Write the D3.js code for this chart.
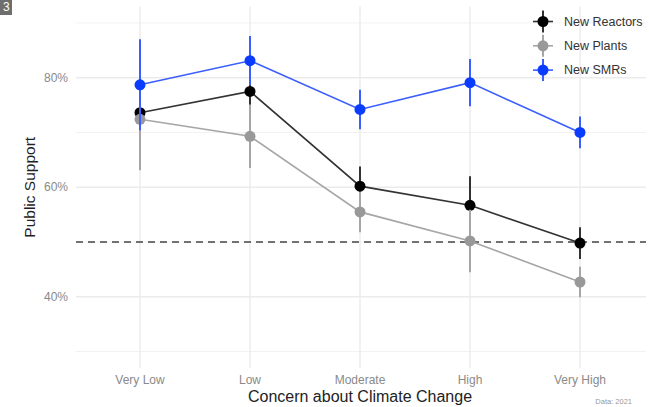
<!DOCTYPE html>
<html><head><meta charset="utf-8">
<script src="https://cdn.jsdelivr.net/npm/d3@7"></script>
<style>body{margin:0;background:#fff}svg{display:block;font-family:"Liberation Sans",Arial,sans-serif}</style>
</head><body><svg id="c" width="649" height="407"></svg>
<script>
const categories = ["Very Low","Low","Moderate","High","Very High"];
const seriesNames = ["New Reactors","New Plants","New SMRs"];
const reactors = [73.6, 77.5, 60.2, 56.7, 49.8];
const reactorsErr = [9.0, 3.5, 3.6, 5.3, 2.9];
const plants = [72.4, 69.3, 55.5, 50.2, 42.7];
const plantsErr = [9.3, 5.8, 3.7, 5.7, 2.8];
const smrs = [78.7, 83.1, 74.2, 79.1, 70.0];
const smrsErr = [8.3, 4.5, 3.6, 4.3, 2.9];
const yTicks = [40, 60, 80];
const yMinor = [30, 50, 70, 90];
const refLine = 50;

const colors = {"New Reactors":"#000000","New Plants":"#999999","New SMRs":"#0a3cff"};
const lineColors = {"New Reactors":"#333333","New Plants":"#a6a6a6","New SMRs":"#3a5eff"};
const series = [
  {name:"New Reactors", v:reactors, e:reactorsErr},
  {name:"New Plants", v:plants, e:plantsErr},
  {name:"New SMRs", v:smrs, e:smrsErr}
];

const svg = d3.select("#c");
const x = d3.scalePoint().domain(categories).range([140,580]);
const y = d3.scaleLinear().domain([27,93]).range([368,6.5]);
const xl = 76, xr = 646;

// top-left tag
svg.append("rect").attr("x",0).attr("y",0).attr("width",12).attr("height",15).attr("fill","#6e6e6e");
svg.append("text").attr("x",3).attr("y",11).attr("fill","#fff").attr("font-size",12).text("3");

// grid
const g = svg.append("g");
g.selectAll(".minor").data(yMinor).join("line")
  .attr("x1",xl).attr("x2",xr).attr("y1",d=>y(d)).attr("y2",d=>y(d))
  .attr("stroke","#f2f2f2").attr("stroke-width",1);
g.selectAll(".major").data(yTicks).join("line")
  .attr("x1",xl).attr("x2",xr).attr("y1",d=>y(d)).attr("y2",d=>y(d))
  .attr("stroke","#ebebeb").attr("stroke-width",1.4);
g.selectAll(".vx").data(categories).join("line")
  .attr("x1",d=>x(d)).attr("x2",d=>x(d)).attr("y1",y(93)).attr("y2",y(27))
  .attr("stroke","#ebebeb").attr("stroke-width",1.4);

// y tick labels
svg.selectAll(".yt").data(yTicks).join("text")
  .attr("x",68).attr("y",d=>y(d)).attr("dy","0.35em").attr("text-anchor","end")
  .attr("fill","#8a8a8a").attr("font-size",12).text(d=>d+"%");
// x tick labels
svg.selectAll(".xt").data(categories).join("text")
  .attr("x",d=>x(d)).attr("y",384).attr("text-anchor","middle")
  .attr("fill","#8a8a8a").attr("font-size",12).text(d=>d);
// titles
svg.append("text").attr("x",360).attr("y",402).attr("text-anchor","middle")
  .attr("fill","#222").attr("font-size",16).text("Concern about Climate Change");
svg.append("text").attr("transform",`translate(35,${(y(93)+y(27))/2}) rotate(-90)`)
  .attr("text-anchor","middle").attr("fill","#222").attr("font-size",15.5).text("Public Support");
svg.append("text").attr("x",632).attr("y",404).attr("text-anchor","end")
  .attr("fill","#999").attr("font-size",7.5).text("Data: 2021");

// reference line
svg.append("line").attr("x1",xl).attr("x2",xr).attr("y1",y(refLine)).attr("y2",y(refLine))
  .attr("stroke","#444").attr("stroke-width",1.5).attr("stroke-dasharray","7,5");

// series
const line = d3.line().x((d,i)=>x(categories[i])).y(d=>y(d));
series.forEach(s=>{
  const sg = svg.append("g");
  sg.selectAll("line.err").data(s.v).join("line")
    .attr("x1",(d,i)=>x(categories[i])).attr("x2",(d,i)=>x(categories[i]))
    .attr("y1",(d,i)=>y(d+s.e[i])).attr("y2",(d,i)=>y(d-s.e[i]))
    .attr("stroke",lineColors[s.name]).attr("stroke-width",2);
  sg.append("path").datum(s.v).attr("d",line).attr("fill","none")
    .attr("stroke",lineColors[s.name]).attr("stroke-width",1.6);
  sg.selectAll("circle").data(s.v).join("circle")
    .attr("cx",(d,i)=>x(categories[i])).attr("cy",d=>y(d)).attr("r",5.5)
    .attr("fill",colors[s.name]);
});

// legend
const lg = svg.append("g");
seriesNames.forEach((n,i)=>{
  const cy = 21.5 + i*24.3, cx = 543;
  lg.append("line").attr("x1",cx-10).attr("x2",cx+10).attr("y1",cy).attr("y2",cy)
    .attr("stroke",lineColors[n]).attr("stroke-width",1.6);
  lg.append("line").attr("x1",cx).attr("x2",cx).attr("y1",cy-11).attr("y2",cy+11)
    .attr("stroke",lineColors[n]).attr("stroke-width",2);
  lg.append("circle").attr("cx",cx).attr("cy",cy).attr("r",5.5).attr("fill",colors[n]);
  lg.append("text").attr("x",564).attr("y",cy).attr("dy","0.35em")
    .attr("fill","#333").attr("font-size",12.5).text(n);
});
</script></body></html>
